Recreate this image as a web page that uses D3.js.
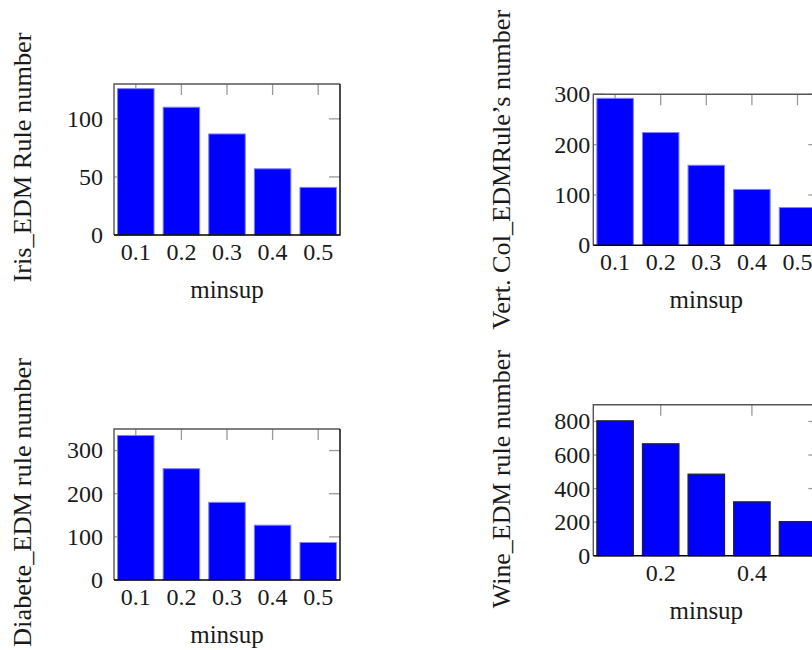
<!DOCTYPE html>
<html>
<head>
<meta charset="utf-8">
<script src="https://cdn.jsdelivr.net/npm/d3@7"></script>
<style>
    body { margin: 0; background: #fff; }
</style>
</head>
<body>
<svg id="chart" width="812" height="650"></svg>
<script>
// Data
const minsup = [0.1, 0.2, 0.3, 0.4, 0.5];
const irisRules = [126, 110, 87, 57, 41];
const vertColRules = [292, 224, 159, 111, 75];
const diabeteRules = [335, 258, 180, 127, 87];
const wineRules = [804, 667, 486, 321, 203];

const irisTicks = [0, 50, 100];
const vertColTicks = [0, 100, 200, 300];
const diabeteTicks = [0, 100, 200, 300];
const wineTicks = [0, 200, 400, 600, 800];
const wineXTicks = [0.2, 0.4, 0.6];

const FONT = "'Liberation Serif', 'Times New Roman', 'DejaVu Serif', serif";

const svg = d3.select('#chart');

// One pgfplots-like bar panel
function drawPanel(p) {
    const g = svg.append('g')
        .attr('font-family', FONT)
        .attr('fill', '#1a1a1a');
    const x = d3.scaleLinear().domain([0.0522, 0.5478]).range([p.left, p.left + 226]);
    const y = d3.scaleLinear().domain([0, p.ymax]).range([p.top + 151, p.top]);
    const bottom = p.top + 151;
    const right = p.left + 226;
    const tickLen = 11;

    // inward ticks (gray), mirrored on both sides
    const ticks = g.append('g').attr('stroke', '#9a9a9a').attr('stroke-width', 1.3);
    p.xticks.forEach(t => {
        const tx = x(t);
        if (tx > right) return;
        ticks.append('line').attr('x1', tx).attr('x2', tx).attr('y1', p.top).attr('y2', p.top + tickLen);
        ticks.append('line').attr('x1', tx).attr('x2', tx).attr('y1', bottom).attr('y2', bottom - tickLen);
    });
    p.yticks.forEach(t => {
        const ty = y(t);
        ticks.append('line').attr('x1', p.left).attr('x2', p.left + tickLen).attr('y1', ty).attr('y2', ty);
        ticks.append('line').attr('x1', right).attr('x2', right - tickLen).attr('y1', ty).attr('y2', ty);
    });

    // bars
    const barW = x(0.08) - x(0);
    g.selectAll('rect.bar')
        .data(minsup.map((m, i) => ({ m, v: p.values[i] })))
        .join('rect')
        .attr('class', 'bar')
        .attr('x', d => x(d.m) - barW / 2)
        .attr('width', barW)
        .attr('y', d => y(d.v))
        .attr('height', d => y(0) - y(d.v))
        .attr('fill', '#0000ff')
        .attr('stroke', p.barStroke)
        .attr('stroke-width', p.barStrokeWidth);

    // frame
    g.append('path')
        .attr('d', `M${p.left},${bottom} V${p.top} H${right}`)
        .attr('fill', 'none').attr('stroke', '#555').attr('stroke-width', 1.4);
    g.append('path')
        .attr('d', `M${p.left},${bottom} H${right} V${p.top}`)
        .attr('fill', 'none').attr('stroke', '#000').attr('stroke-width', 1.4);

    // tick labels
    p.xticks.forEach(t => {
        if (x(t) > right) return;
        g.append('text')
            .attr('x', x(t)).attr('y', bottom + 25)
            .attr('text-anchor', 'middle')
            .attr('font-size', 24)
            .text(d3.format('.1f')(t));
    });
    p.yticks.forEach(t => {
        g.append('text')
            .attr('x', p.left - p.labelGap).attr('y', y(t))
            .attr('dy', '0.33em')
            .attr('text-anchor', 'end')
            .attr('font-size', 24)
            .text(t);
    });

    // axis titles
    g.append('text')
        .attr('x', p.left + 113).attr('y', bottom + 63)
        .attr('text-anchor', 'middle')
        .attr('font-size', 25)
        .text('minsup');

    const cy = p.top + 75.5 + p.ylabelShift;
    g.append('text')
        .attr('transform', `translate(${p.left - 83},${cy}) rotate(-90)`)
        .attr('text-anchor', 'middle')
        .attr('textLength', p.ylabelLen)
        .attr('lengthAdjust', 'spacingAndGlyphs')
        .attr('font-size', 25)
        .text(p.ylabel);
}

drawPanel({
    left: 114, top: 84, ymax: 130, values: irisRules,
    xticks: minsup, yticks: irisTicks, labelGap: 11,
    ylabel: 'Iris_EDM Rule number', ylabelLen: 250, ylabelShift: -2,
    barStroke: '#7f7fff', barStrokeWidth: 1
});
drawPanel({
    left: 593.3, top: 94.3, ymax: 300, values: vertColRules,
    xticks: minsup, yticks: vertColTicks, labelGap: 3,
    ylabel: 'Vert. Col_EDMRule\u2019s number', ylabelLen: 320, ylabelShift: 0,
    barStroke: '#7f7fff', barStrokeWidth: 1
});
drawPanel({
    left: 114, top: 429, ymax: 350, values: diabeteRules,
    xticks: minsup, yticks: diabeteTicks, labelGap: 11,
    ylabel: 'Diabete_EDM rule number', ylabelLen: 289, ylabelShift: -2,
    barStroke: '#7f7fff', barStrokeWidth: 1
});
drawPanel({
    left: 593.3, top: 404.7, ymax: 900, values: wineRules,
    xticks: wineXTicks, yticks: wineTicks, labelGap: 3,
    ylabel: 'Wine_EDM rule number', ylabelLen: 258, ylabelShift: -1,
    barStroke: '#222', barStrokeWidth: 1.2
});
</script>
</body>
</html>
